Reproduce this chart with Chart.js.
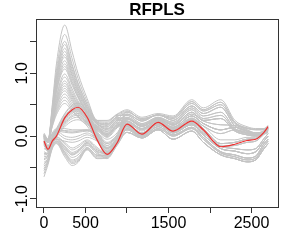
<!DOCTYPE html>
<html>
<head>
<meta charset="utf-8">
<script src="https://cdn.jsdelivr.net/npm/chart.js@4.4.1/dist/chart.umd.min.js"></script>
<style>
  html, body { margin: 0; padding: 0; background: #fff; }
  #wrap { width: 289px; height: 240px; }
</style>
</head>
<body>
<div id="wrap"><canvas id="chart" width="289" height="240"></canvas></div>
<script>
// abscissa of every curve
const xValues = [0, 50, 100, 150, 250, 340, 410, 520, 640, 760, 880, 1000, 1180, 1375, 1555, 1780, 1920, 2130, 2300, 2445, 2550, 2650, 2700];
const xTicks = [0, 500, 1000, 1500, 2000, 2500];
const xTickLabels = ['0', '500', '', '1500', '', '2500'];
const yTicks = [-1, -0.5, 0, 0.5, 1, 1.5];
const yTickLabels = ['-1.0', '', '0.0', '', '1.0', ''];
const title = 'RFPLS';

// red curve
const redCurve = [-0.08, -0.21, -0.08, 0.0, 0.29, 0.42, 0.46, 0.30, -0.06, -0.29, -0.11, 0.19, 0.03, 0.22, 0.08, 0.24, 0.10, -0.17, -0.13, -0.07, -0.05, 0.06, 0.15];

// right halves (x = 1000 .. 2700) of the grey curves
const rightA  = [0.42, 0.30, 0.36, 0.32, 0.58, 0.45, 0.58, 0.25, 0.15, 0.12, 0.12, 0.17];
const rightA2 = [0.38, 0.28, 0.33, 0.28, 0.52, 0.40, 0.50, 0.20, 0.12, 0.10, 0.10, 0.15];
const rightA3 = [0.40, 0.26, 0.34, 0.30, 0.55, 0.42, 0.54, 0.22, 0.13, 0.11, 0.11, 0.16];
const rightH  = [0.35, 0.24, 0.34, 0.25, 0.48, 0.36, 0.46, 0.16, 0.08, 0.05, 0.08, 0.13];
const rightB  = [0.33, 0.20, 0.30, 0.22, 0.45, 0.32, 0.38, 0.12, 0.05, 0.02, 0.06, 0.12];
const rightB2 = [0.28, 0.16, 0.27, 0.18, 0.38, 0.25, 0.28, 0.08, 0.02, 0.00, 0.04, 0.10];
const rightB3 = [0.30, 0.18, 0.29, 0.20, 0.42, 0.28, 0.33, 0.10, 0.04, 0.01, 0.05, 0.11];
const rightC  = [0.19, 0.05, 0.22, 0.10, 0.26, 0.12, -0.12, -0.10, -0.05, -0.04, 0.05, 0.12];
const rightC2 = [0.22, 0.08, 0.24, 0.12, 0.29, 0.16, -0.06, -0.06, -0.02, -0.02, 0.06, 0.13];
const rightC3 = [0.16, 0.02, 0.20, 0.07, 0.22, 0.08, -0.16, -0.15, -0.10, -0.08, 0.03, 0.10];
const rightD  = [0.24, 0.12, 0.26, 0.14, 0.32, 0.20, 0.10, 0.14, 0.08, 0.03, 0.04, 0.08];
const rightD2 = [0.27, 0.15, 0.28, 0.17, 0.35, 0.24, 0.18, 0.17, 0.10, 0.05, 0.05, 0.09];
const rightD3 = [0.20, 0.10, 0.24, 0.12, 0.28, 0.16, 0.04, 0.10, 0.06, 0.02, 0.03, 0.06];
const rightE  = [0.12, 0.00, 0.15, 0.02, 0.14, -0.02, -0.25, -0.30, -0.35, -0.32, -0.12, -0.05];
const rightE2 = [0.10, -0.02, 0.12, 0.00, 0.12, -0.05, -0.27, -0.33, -0.38, -0.35, -0.16, -0.08];
const rightF  = [0.06, -0.03, 0.10, -0.05, 0.08, -0.10, -0.30, -0.36, -0.41, -0.38, -0.20, -0.12];
const rightG  = [0.15, 0.02, 0.18, 0.05, 0.18, 0.02, -0.20, -0.24, -0.28, -0.25, -0.08, 0.00];
const rightG2 = [0.17, 0.04, 0.20, 0.07, 0.20, 0.05, -0.16, -0.20, -0.22, -0.20, -0.04, 0.04];

// left halves (x = 0 .. 880): tall peaks near 250
const leftH1  = [0.02, -0.06, 0.50, 1.15, 1.77, 1.34, 1.00, 0.60, 0.25, 0.25, 0.35];
const leftH14 = [0.01, -0.07, 0.46, 1.05, 1.62, 1.23, 0.92, 0.55, 0.25, 0.24, 0.34];
const leftH2  = [0.00, -0.08, 0.43, 0.98, 1.51, 1.14, 0.85, 0.51, 0.24, 0.22, 0.33];
const leftH3  = [0.03, -0.05, 0.41, 0.95, 1.46, 1.11, 0.83, 0.50, 0.23, 0.20, 0.32];
const leftH15 = [-0.01, -0.08, 0.40, 0.91, 1.40, 1.06, 0.79, 0.47, 0.22, 0.19, 0.31];
const leftH4  = [-0.02, -0.10, 0.38, 0.88, 1.35, 1.02, 0.76, 0.46, 0.22, 0.18, 0.30];
const leftH5  = [0.01, -0.07, 0.37, 0.84, 1.30, 0.98, 0.73, 0.44, 0.22, 0.17, 0.29];
const leftH6  = [-0.03, -0.10, 0.36, 0.82, 1.26, 0.95, 0.71, 0.43, 0.20, 0.15, 0.28];
const leftH16 = [0.02, -0.06, 0.34, 0.78, 1.20, 0.91, 0.68, 0.41, 0.20, 0.14, 0.27];
const leftH7  = [0.00, -0.08, 0.33, 0.75, 1.15, 0.87, 0.65, 0.39, 0.20, 0.12, 0.26];
const leftH17 = [-0.01, -0.09, 0.31, 0.72, 1.11, 0.84, 0.63, 0.38, 0.19, 0.11, 0.25];
const leftH8  = [0.02, -0.06, 0.30, 0.70, 1.07, 0.81, 0.61, 0.36, 0.19, 0.10, 0.25];
const leftH9  = [-0.02, -0.09, 0.28, 0.64, 0.99, 0.75, 0.56, 0.34, 0.17, 0.08, 0.23];
const leftH18 = [0.00, -0.08, 0.27, 0.61, 0.94, 0.71, 0.53, 0.32, 0.16, 0.07, 0.22];
const leftH10 = [0.00, -0.08, 0.25, 0.57, 0.88, 0.67, 0.50, 0.30, 0.15, 0.05, 0.20];
const leftH19 = [0.02, -0.06, 0.24, 0.55, 0.84, 0.64, 0.48, 0.29, 0.15, 0.04, 0.19];
const leftH11 = [-0.04, -0.11, 0.23, 0.52, 0.80, 0.61, 0.45, 0.27, 0.14, 0.03, 0.18];
const leftH20 = [-0.03, -0.10, 0.22, 0.49, 0.76, 0.58, 0.43, 0.26, 0.13, 0.02, 0.17];
const leftH12 = [0.01, -0.07, 0.20, 0.47, 0.72, 0.55, 0.41, 0.25, 0.13, 0.02, 0.17];
const leftH21 = [0.00, -0.08, 0.19, 0.43, 0.67, 0.51, 0.38, 0.23, 0.12, 0.01, 0.16];
const leftH13 = [-0.02, -0.10, 0.18, 0.40, 0.62, 0.47, 0.35, 0.21, 0.11, 0.00, 0.15];
const leftH22 = [-0.01, -0.09, 0.16, 0.37, 0.57, 0.43, 0.32, 0.20, 0.10, -0.01, 0.14];
const leftH23 = [0.01, -0.07, 0.15, 0.34, 0.52, 0.40, 0.30, 0.18, 0.09, -0.02, 0.13];
// curves that follow the red one
const leftM1  = [-0.05, -0.18, -0.03, 0.08, 0.32, 0.45, 0.50, 0.35, 0.00, -0.22, -0.05];
const leftM2  = [-0.10, -0.22, -0.08, 0.04, 0.26, 0.38, 0.42, 0.28, -0.04, -0.25, -0.08];
const leftM3  = [-0.12, -0.25, -0.10, 0.02, 0.22, 0.33, 0.36, 0.24, -0.02, -0.20, -0.04];
const leftM4  = [-0.06, -0.16, -0.02, 0.10, 0.30, 0.44, 0.48, 0.36, 0.05, -0.15, 0.00];
const leftM5  = [-0.15, -0.24, -0.12, -0.02, 0.18, 0.28, 0.30, 0.20, -0.06, -0.30, -0.12];
const leftM6  = [-0.08, -0.20, -0.05, 0.06, 0.28, 0.40, 0.43, 0.30, -0.02, -0.24, -0.06];
const leftM7  = [-0.04, -0.17, -0.02, 0.10, 0.35, 0.48, 0.52, 0.38, 0.04, -0.18, -0.02];
const leftM8  = [-0.09, -0.21, -0.06, 0.05, 0.24, 0.36, 0.40, 0.27, -0.05, -0.27, -0.09];
const leftM9  = [-0.11, -0.23, -0.09, 0.03, 0.20, 0.31, 0.33, 0.22, -0.04, -0.24, -0.07];
const leftM10 = [-0.07, -0.19, -0.04, 0.07, 0.30, 0.41, 0.44, 0.32, 0.02, -0.20, -0.03];
const leftM11 = [-0.13, -0.24, -0.11, 0.00, 0.15, 0.24, 0.26, 0.16, -0.08, -0.28, -0.10];
const leftM12 = [-0.03, -0.15, 0.00, 0.12, 0.36, 0.50, 0.53, 0.40, 0.08, -0.12, 0.02];
// nearly flat curves
const leftF1 = [0.05, -0.05, 0.05, 0.12, 0.12, 0.10, 0.10, 0.10, 0.05, -0.10, 0.02];
const leftF6 = [0.03, -0.07, 0.04, 0.10, 0.09, 0.08, 0.08, 0.09, 0.02, -0.12, 0.00];
const leftF2 = [-0.02, -0.10, 0.02, 0.08, 0.06, 0.05, 0.06, 0.08, 0.00, -0.15, -0.02];
const leftF3 = [0.00, -0.08, 0.03, 0.08, 0.00, -0.02, 0.00, 0.05, -0.05, -0.18, -0.05];
const leftF4 = [-0.20, -0.22, -0.05, 0.10, 0.08, 0.06, 0.08, 0.10, 0.05, -0.05, 0.05];
const leftF7 = [-0.10, -0.15, -0.02, 0.04, -0.04, -0.06, -0.04, 0.02, -0.06, -0.19, -0.06];
const leftF5 = [-0.25, -0.28, -0.12, -0.05, -0.08, -0.10, -0.08, -0.02, -0.08, -0.20, -0.08];
// curves with a dip near 340
const leftL1  = [-0.65, -0.45, -0.20, -0.12, -0.33, -0.47, -0.42, -0.22, -0.36, -0.35, -0.15];
const leftL9  = [-0.60, -0.42, -0.19, -0.11, -0.30, -0.44, -0.40, -0.21, -0.35, -0.34, -0.14];
const leftL2  = [-0.55, -0.40, -0.18, -0.10, -0.28, -0.42, -0.38, -0.20, -0.33, -0.33, -0.12];
const leftL10 = [-0.52, -0.39, -0.16, -0.09, -0.26, -0.40, -0.36, -0.19, -0.31, -0.31, -0.11];
const leftL3  = [-0.48, -0.38, -0.15, -0.08, -0.25, -0.38, -0.34, -0.18, -0.30, -0.30, -0.10];
const leftL8  = [-0.45, -0.36, -0.14, -0.08, -0.20, -0.30, -0.24, -0.14, -0.26, -0.36, -0.14];
const leftL4  = [-0.42, -0.35, -0.12, -0.06, -0.22, -0.34, -0.30, -0.15, -0.28, -0.32, -0.12];
const leftL5  = [-0.38, -0.32, -0.10, -0.05, -0.18, -0.30, -0.26, -0.12, -0.25, -0.28, -0.08];
const leftL11 = [-0.36, -0.31, -0.11, -0.05, -0.17, -0.28, -0.24, -0.11, -0.24, -0.27, -0.07];
const leftL6  = [-0.33, -0.30, -0.10, -0.04, -0.15, -0.26, -0.22, -0.10, -0.22, -0.26, -0.06];
const leftL7  = [-0.30, -0.28, -0.08, -0.02, -0.12, -0.22, -0.18, -0.08, -0.20, -0.30, -0.10];
const leftL12 = [-0.28, -0.26, -0.07, -0.01, -0.10, -0.19, -0.15, -0.06, -0.18, -0.28, -0.09];

const greyCurves = [
  [leftH1, rightA], [leftH14, rightA3], [leftH2, rightB], [leftH3, rightA2],
  [leftH15, rightH], [leftH4, rightD], [leftH5, rightB2], [leftH6, rightC],
  [leftH16, rightD2], [leftH7, rightA2], [leftH17, rightB3], [leftH8, rightD],
  [leftH9, rightB], [leftH18, rightC2], [leftH10, rightG], [leftH19, rightH],
  [leftH11, rightC], [leftH20, rightD3], [leftH12, rightB2], [leftH21, rightG2],
  [leftH13, rightD], [leftH22, rightC3], [leftH23, rightB3],
  [leftM1, rightC], [leftM2, rightD], [leftM3, rightG], [leftM4, rightB2],
  [leftM5, rightE], [leftM6, rightC], [leftM7, rightA3], [leftM8, rightE2],
  [leftM9, rightC3], [leftM10, rightD2], [leftM11, rightF], [leftM12, rightH],
  [leftF1, rightD], [leftF6, rightD3], [leftF2, rightG], [leftF3, rightE],
  [leftF4, rightB2], [leftF7, rightG2], [leftF5, rightF],
  [leftL1, rightF], [leftL9, rightE2], [leftL2, rightE], [leftL10, rightG2],
  [leftL3, rightF], [leftL8, rightF], [leftL4, rightG], [leftL5, rightE],
  [leftL11, rightC3], [leftL6, rightC], [leftL7, rightG], [leftL12, rightE2]
].map(([l, r]) => l.concat(r));

const FONT = '"Liberation Sans", Arial, Helvetica, sans-serif';

function toPoints(vals) {
  return vals.map((v, i) => ({ x: xValues[i], y: v }));
}

const datasets = [{
  data: toPoints(redCurve),
  borderColor: '#ee3030',
  borderWidth: 1.2
}].concat(greyCurves.map(c => ({
  data: toPoints(c),
  borderColor: '#c4c4c4',
  borderWidth: 1
})));

// box, rotated y labels and title, drawn the way R does it
const rFrame = {
  id: 'rFrame',
  afterDraw(chart) {
    const { ctx, chartArea: a, scales } = chart;
    ctx.save();
    ctx.strokeStyle = '#333';
    ctx.lineWidth = 1;
    ctx.strokeRect(a.left + 0.5, a.top + 0.5, a.right - a.left, a.bottom - a.top);

    ctx.fillStyle = '#000';
    ctx.font = '16px ' + FONT;
    ctx.textAlign = 'center';
    ctx.textBaseline = 'middle';
    yTicks.forEach((v, i) => {
      if (!yTickLabels[i]) return;
      ctx.save();
      ctx.translate(22.5, scales.y.getPixelForValue(v));
      ctx.rotate(-Math.PI / 2);
      ctx.fillText(yTickLabels[i], 0, 0);
      ctx.restore();
    });

    ctx.font = 'bold 17px ' + FONT;
    ctx.fillText(title, (a.left + a.right) / 2, 10);
    ctx.restore();
  }
};

new Chart(document.getElementById('chart'), {
  type: 'line',
  data: { datasets },
  plugins: [rFrame],
  options: {
    responsive: false,
    animation: false,
    events: [],
    layout: { padding: { top: 19, right: 11, left: 0, bottom: 0 } },
    elements: {
      point: { radius: 0 },
      line: { cubicInterpolationMode: 'monotone', fill: false }
    },
    plugins: { legend: { display: false }, tooltip: { enabled: false }, title: { display: false } },
    scales: {
      x: {
        type: 'linear',
        min: -96,
        max: 2819,
        afterBuildTicks: s => { s.ticks = xTicks.map(v => ({ value: v })); },
        afterFit: s => { s.height = 33; },
        grid: { drawOnChartArea: false, drawTicks: true, tickLength: 6, color: '#333' },
        border: { display: false },
        ticks: {
          autoSkip: false,
          maxRotation: 0,
          padding: 1,
          color: '#000',
          font: { family: FONT, size: 16 },
          callback: (v, i) => xTickLabels[i]
        }
      },
      y: {
        min: -1.13,
        max: 1.866,
        afterBuildTicks: s => { s.ticks = yTicks.map(v => ({ value: v })); },
        afterFit: s => { s.width = 36; },
        grid: { drawOnChartArea: false, drawTicks: true, tickLength: 6, color: '#333' },
        border: { display: false },
        ticks: { display: true, color: 'rgba(0,0,0,0)', callback: () => '' }
      }
    }
  }
});
</script>
</body>
</html>
